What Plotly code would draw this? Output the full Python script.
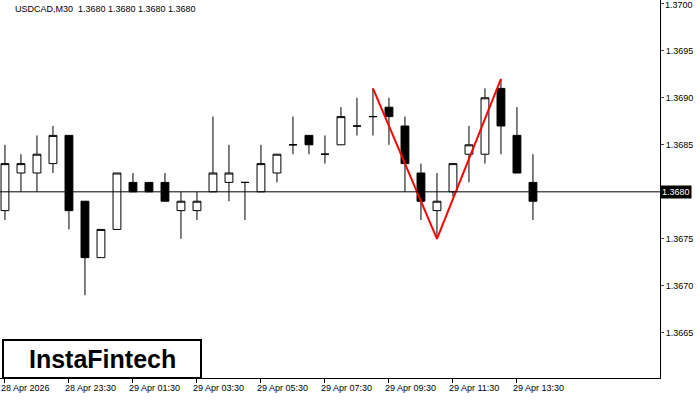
import plotly.graph_objects as go

opens  = [1.3678,1.3682,1.3682,1.3683,1.3686,1.3679,1.3673,1.3676,1.3681,1.3681,1.3681,1.3678,1.3678,1.3680,1.3681,1.3681,1.3680,1.3682,1.3685,1.3686,1.3684,1.3685,1.3687,1.3688,1.3689,1.3687,1.3682,1.3678,1.3680,1.3684,1.3684,1.3691,1.3686,1.3681]
highs  = [1.3685,1.3684,1.3686,1.3687,1.3686,1.3679,1.3676,1.3682,1.3682,1.3681,1.3682,1.3680,1.3680,1.3688,1.3685,1.3681,1.3685,1.3684,1.3688,1.3686,1.3686,1.3689,1.3690,1.3691,1.3690,1.3688,1.3683,1.3682,1.3683,1.3687,1.3691,1.3692,1.3689,1.3684]
lows   = [1.3677,1.3680,1.3680,1.3682,1.3676,1.3669,1.3673,1.3676,1.3680,1.3680,1.3679,1.3675,1.3677,1.3680,1.3679,1.3677,1.3680,1.3681,1.3684,1.3684,1.3683,1.3685,1.3686,1.3686,1.3685,1.3680,1.3677,1.3675,1.36795,1.3681,1.3683,1.3684,1.3682,1.3677]
closes = [1.3683,1.3683,1.3684,1.3686,1.3678,1.3673,1.3676,1.3682,1.3680,1.3680,1.3679,1.3679,1.3679,1.3682,1.3682,1.3681,1.3683,1.3684,1.3685,1.3685,1.3684,1.3688,1.3687,1.3688,1.3688,1.3683,1.3679,1.3679,1.3683,1.3685,1.3690,1.3687,1.3682,1.3679]
tick_idx = [0,4,8,12,16,20,24,28,32]
tick_labels = ["28 Apr 2026","28 Apr 23:30","29 Apr 01:30","29 Apr 03:30","29 Apr 05:30","29 Apr 07:30","29 Apr 09:30","29 Apr 11:30","29 Apr 13:30"]
pattern_x = [23,27,31]
pattern_y = [1.3691,1.3675,1.3692]
current = 1.3680
y_ticks = [1.3665,1.3670,1.3675,1.3680,1.3685,1.3690,1.3695,1.3700]

F = "Liberation Sans"
x = list(range(len(opens)))
fig = go.Figure()
fig.add_trace(go.Candlestick(x=x, open=opens, high=highs, low=lows, close=closes,
    increasing=dict(fillcolor="white", line=dict(color="black", width=1)),
    decreasing=dict(fillcolor="black", line=dict(color="black", width=1)),
    whiskerwidth=0, showlegend=False, hoverinfo="skip"))
fig.add_hline(y=current, line=dict(color="black", width=1))
fig.add_trace(go.Scatter(x=pattern_x, y=pattern_y, mode="lines",
    line=dict(color="#ff0000", width=2), showlegend=False, hoverinfo="skip"))

fig.update_layout(width=700, height=400, margin=dict(l=0, r=40, t=0, b=22),
    plot_bgcolor="white", paper_bgcolor="white",
    font=dict(family=F, size=9, color="black"))
fig.update_xaxes(range=[-0.31, 40.94], showgrid=False, showticklabels=False, automargin=False,
    rangeslider=dict(visible=False), showline=True, linecolor="black", mirror=True,
    ticks="outside", tickvals=tick_idx, ticklen=4, tickcolor="black")
fig.update_yaxes(range=[1.36602, 1.37004], side="right", showgrid=False, automargin=False,
    tickvals=y_ticks, ticktext=["" if abs(v-current) < 1e-9 or v > 1.36999 else f"{v:.4f}" for v in y_ticks],
    ticks="outside", ticklen=3, showline=True, linecolor="black", mirror=True,
    tickfont=dict(size=9, family=F))

fig.add_annotation(x=1, xref="paper", y=y_ticks[-1], xanchor="left", yanchor="middle",
    text=f"{y_ticks[-1]:.4f}", showarrow=False, xshift=3, yshift=-1, font=dict(size=9, family=F))
for i, lab in zip(tick_idx, tick_labels):
    fig.add_annotation(x=i, y=0, yref="paper", yanchor="top", xanchor="left",
        text=lab, showarrow=False, xshift=-6, yshift=-3, font=dict(size=9, family=F))
fig.add_annotation(x=1, xref="paper", y=current, xanchor="left", text="1.3680",
    showarrow=False, bgcolor="black", font=dict(color="white", size=9, family=F), xshift=0,
    borderpad=1)
fig.add_annotation(x=0, xref="paper", y=1, yref="paper", xanchor="left", yanchor="top",
    text="USDCAD,M30  1.3680 1.3680 1.3680 1.3680", showarrow=False, xshift=13, yshift=-2,
    font=dict(size=9, family=F))
fig.add_shape(type="rect", xref="paper", yref="paper", x0=3/660, x1=201/660,
    y0=0, y1=38/378, line=dict(color="black", width=2), fillcolor="white")
fig.add_annotation(x=102/660, xref="paper", y=19/378, yref="paper", xanchor="center", yanchor="middle",
    text="<b>InstaFintech</b>", showarrow=False, font=dict(size=25, family=F, color="black"))
fig.write_html("out.html", config={"displayModeBar": False},
    post_script="document.body.style.margin='0';")
